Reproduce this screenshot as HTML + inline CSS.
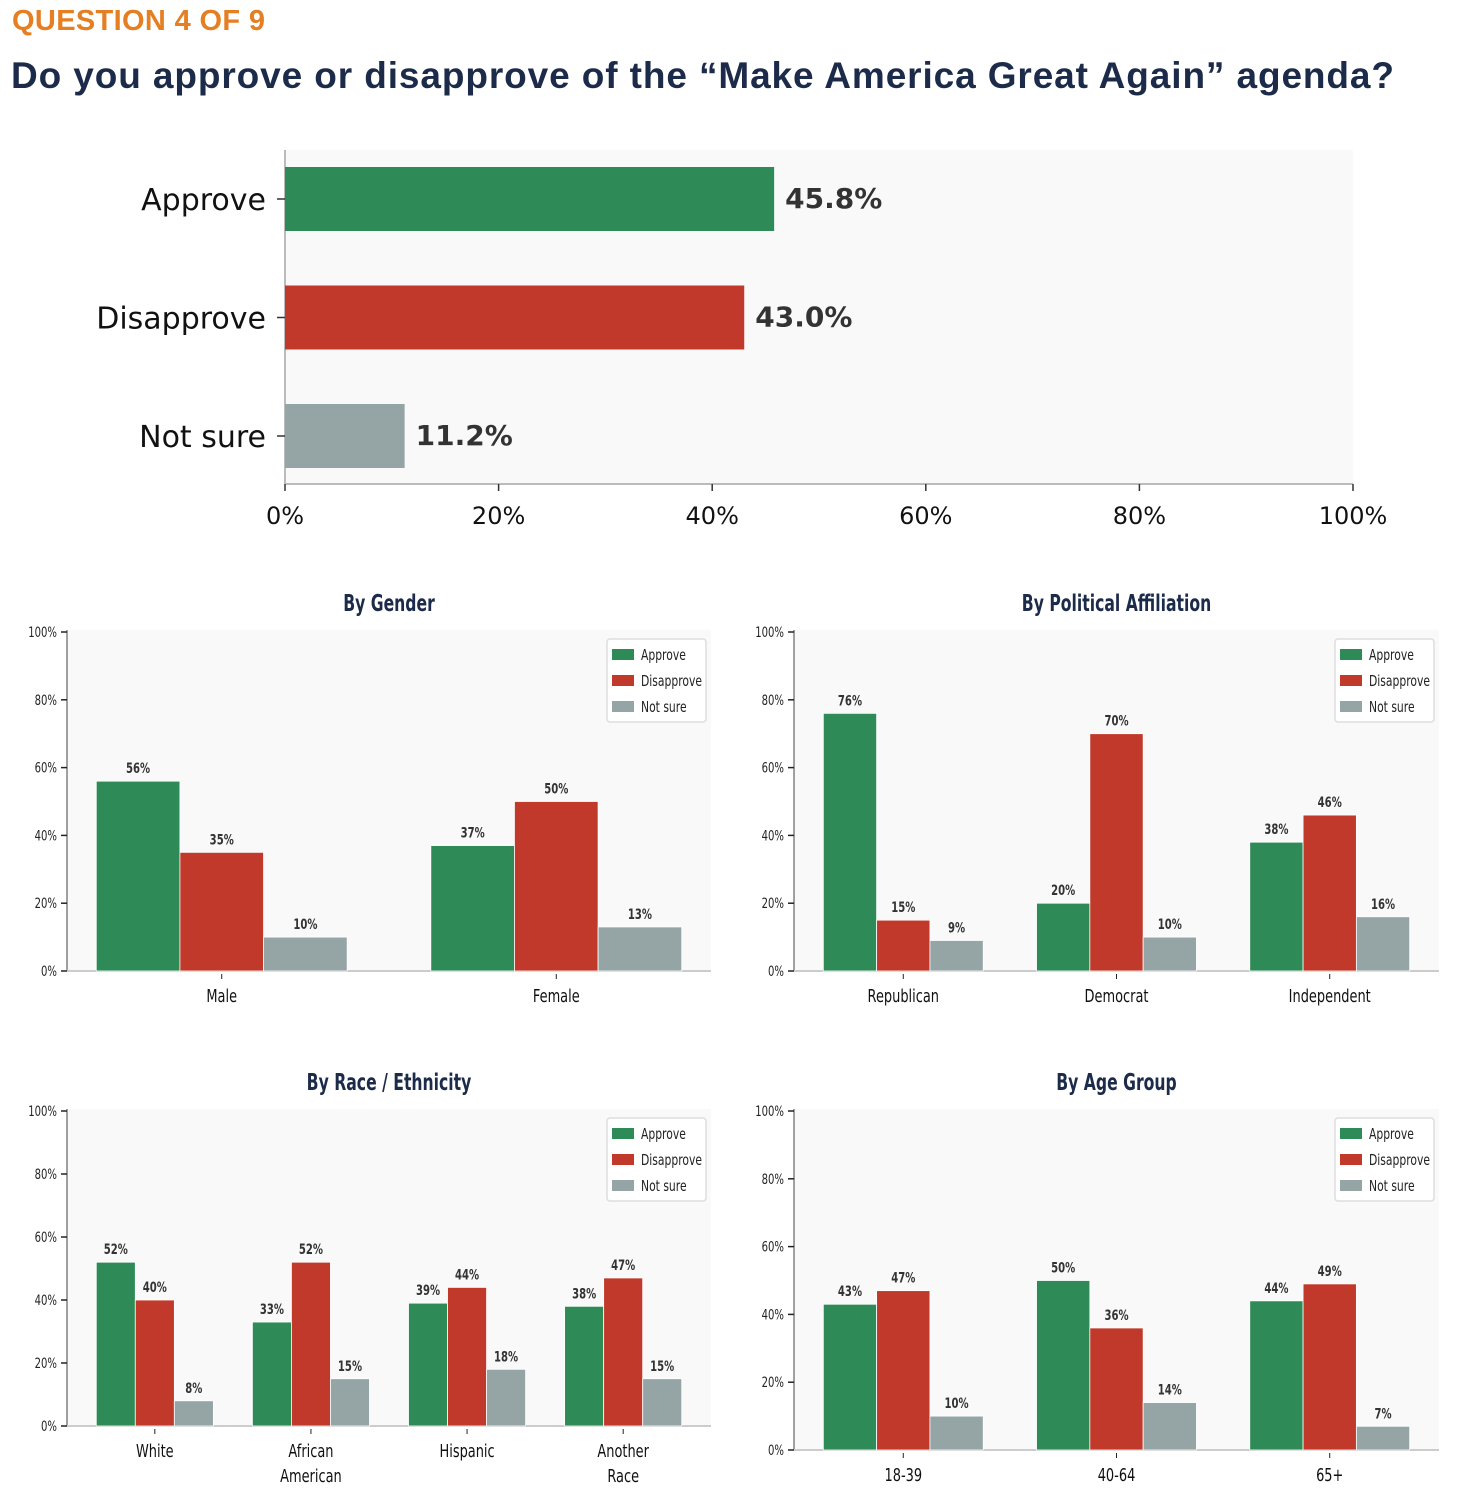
<!DOCTYPE html>
<html><head><meta charset="utf-8"><style>
html,body{margin:0;padding:0;background:#fff;}
svg{display:block;}
</style></head><body>
<svg id="page" width="1474" height="1498" xmlns="http://www.w3.org/2000/svg">
<text x="12" y="30" font-family="Liberation Sans, sans-serif" font-weight="bold" font-size="29" fill="#e67e22" textLength="253">QUESTION 4 OF 9</text>
<text x="11" y="88" font-family="Liberation Sans, sans-serif" font-weight="bold" font-size="37" fill="#1c2b4a" textLength="1383">Do you approve or disapprove of the “Make America Great Again” agenda?</text>
<g id="main"></g>
<g id="small"></g>
</svg>
<script>
// ---------- main chart data ----------
const mainCats = ["Approve","Disapprove","Not sure"];
const mainValues = [45.8, 43.0, 11.2];
const mainTicks = [0,20,40,60,80,100];
// ---------- small charts data ----------
const genderCats = [["Male"],["Female"]];
const genderApprove = [56,37];
const genderDisapprove = [35,50];
const genderNotSure = [10,13];
const partyCats = [["Republican"],["Democrat"],["Independent"]];
const partyApprove = [76,20,38];
const partyDisapprove = [15,70,46];
const partyNotSure = [9,10,16];
const raceCats = [["White"],["African","American"],["Hispanic"],["Another","Race"]];
const raceApprove = [52,33,39,38];
const raceDisapprove = [40,52,44,47];
const raceNotSure = [8,15,18,15];
const ageCats = [["18-39"],["40-64"],["65+"]];
const ageApprove = [43,50,44];
const ageDisapprove = [47,36,49];
const ageNotSure = [10,14,7];
const yTicks = [0,20,40,60,80,100];
const seriesNames = ["Approve","Disapprove","Not sure"];

const NS="http://www.w3.org/2000/svg";
const COLORS=["#2e8b57","#c0392b","#95a5a6"];
function mk(tag,attrs,parent){const e=document.createElementNS(NS,tag);for(const k in attrs)e.setAttribute(k,attrs[k]);parent.appendChild(e);return e;}
function txt(parent,x,y,s,size,anchor,opts){
  opts=opts||{};
  const sx=opts.sx||1;
  const t=mk('text',{transform:`translate(${x},${y}) scale(${sx},1)`,'font-family':opts.family||'DejaVu Sans, sans-serif','font-size':size,'text-anchor':anchor,fill:opts.fill||'#222','font-weight':opts.bold?'bold':'normal'},parent);
  t.textContent=s;return t;
}

// ---------- main chart ----------
(function(){
  const g=document.getElementById('main');
  const X0=285,X1=1353,Y0=150,Y1=484;
  const x=v=>X0+(X1-X0)*v/100;
  const yc=i=>199+i*118.5;
  const bg=mk('rect',{x:X0,y:Y0,width:X1-X0,height:Y1-Y0,fill:'#f9f9f9'},g);
  
  
  mk('line',{x1:X0,y1:Y0,x2:X0,y2:Y1,stroke:'#bbb','stroke-width':2},g);
  mk('line',{x1:X0,y1:Y1,x2:X1,y2:Y1,stroke:'#bbb','stroke-width':2},g);
  mainTicks.forEach(v=>{
    mk('line',{x1:x(v),y1:Y1,x2:x(v),y2:Y1+7,stroke:'#333','stroke-width':1.5},g);
    const t=txt(g,x(v),Y1+40,v+'%',24,'middle',{fill:'#111'});
    
    
  });
  mainCats.forEach((c,i)=>{
    const b=mk('rect',{x:X0,y:yc(i)-32,width:x(mainValues[i])-X0,height:64,fill:COLORS[i]},g);
    
    
    mk('line',{x1:X0-8,y1:yc(i),x2:X0,y2:yc(i),stroke:'#333','stroke-width':1.5},g);
    const l=txt(g,266,yc(i)+11,c,30,'end',{fill:'#111'});
    
    
    const v=txt(g,x(mainValues[i])+11,yc(i)+9,mainValues[i].toFixed(1)+'%',28,'start',{bold:true,fill:'#333'});
    
    
  });
})();

// ---------- small grouped charts ----------
function grouped(cfg){
  const root=document.getElementById('small');
  const g=mk('g',{},root);
  
  
  const {L,R,T,B,cats,series}=cfg;
  const n=cats.length;
  const span=(n-1)+0.75;
  const lo=-0.375-0.05*span, hi=n-1+0.375+0.05*span;
  const x=u=>L+(R-L)*(u-lo)/(hi-lo);
  const y=v=>B-(B-T)*v/100;
  const SX=0.72;
  mk('rect',{x:L,y:T-2,width:R-L,height:B-T+2,fill:'#f9f9f9'},g);
  const title=txt(g,(L+R)/2,T-21,cfg.title,23,'middle',{bold:true,fill:'#1c2b4a',sx:0.68});
  
  
  mk('line',{x1:L,y1:T-2,x2:L,y2:B,stroke:'#444','stroke-width':1},g);
  mk('line',{x1:L,y1:B,x2:R,y2:B,stroke:'#ccc','stroke-width':2},g);
  yTicks.forEach(v=>{
    mk('line',{x1:L-6,y1:y(v),x2:L,y2:y(v),stroke:'#222','stroke-width':1.5},g);
    const t=txt(g,L-10,y(v)+5,v+'%',14,'end',{sx:SX,fill:'#222'});
    
    
  });
  cats.forEach((c,i)=>{
    mk('line',{x1:x(i),y1:B+3,x2:x(i),y2:B+8,stroke:'#222','stroke-width':1},g);
    c.forEach((line,k)=>{
      const t=txt(g,x(i),B+31+k*25,line,18,'middle',{sx:SX,fill:'#111'});
      
      
    });
    series.forEach((s,j)=>{
      const u=i+(j-1)*0.25;
      const v=s[i];
      const r=mk('rect',{x:x(u-0.125),y:y(v),width:x(u+0.125)-x(u-0.125),height:B-y(v),fill:COLORS[j],stroke:'#fff','stroke-width':0.8},g);
      
      
      const t=txt(g,x(u),y(v)-8,v+'%',14,'middle',{bold:true,sx:SX,fill:'#333'});
      
      
    });
  });
  const lx=R-104, ly=T+7;
  const lg=mk('g',{},g);
  
  
  mk('rect',{x:lx,y:ly,width:99,height:83,rx:3,fill:'#fff',stroke:'#ddd','stroke-width':1.5},lg);
  seriesNames.forEach((nm,j)=>{
    mk('rect',{x:lx+5,y:ly+10+j*26,width:22,height:11,fill:COLORS[j]},lg);
    const t=txt(lg,lx+34,ly+21+j*26,nm,15,'start',{sx:0.72,fill:'#222'});
    
    
  });
}
grouped({name:'chart-by-gender',title:'By Gender',L:67,R:711,T:632,B:971,cats:genderCats,series:[genderApprove,genderDisapprove,genderNotSure]});
grouped({name:'chart-by-party',title:'By Political Affiliation',L:794,R:1439,T:632,B:971,cats:partyCats,series:[partyApprove,partyDisapprove,partyNotSure]});
grouped({name:'chart-by-race',title:'By Race / Ethnicity',L:67,R:711,T:1111,B:1426,cats:raceCats,series:[raceApprove,raceDisapprove,raceNotSure]});
grouped({name:'chart-by-age',title:'By Age Group',L:794,R:1439,T:1111,B:1450,cats:ageCats,series:[ageApprove,ageDisapprove,ageNotSure]});
</script>
</body></html>
